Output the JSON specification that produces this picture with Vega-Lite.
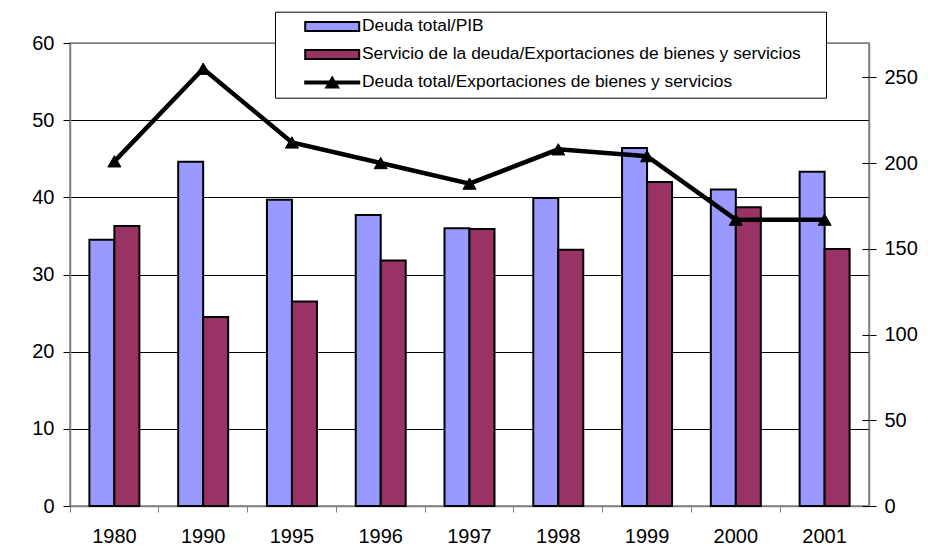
{
  "$schema": "https://vega.github.io/schema/vega-lite/v6.json",
  "width": 799,
  "height": 463,
  "autosize": {"type": "none"},
  "padding": {"left": 70, "top": 43, "right": 59, "bottom": 46},
  "background": "white",
  "config": {
    "font": "Liberation Sans",
    "view": {"stroke": "#808080", "strokeWidth": 1.5},
    "axis": {
      "labelFont": "Liberation Sans",
      "labelFontSize": 20,
      "labelColor": "black",
      "domainColor": "#808080",
      "domainWidth": 1.5,
      "tickColor": "black",
      "tickWidth": 1,
      "title": null,
      "labelAngle": 0
    },
    "legend": {
      "orient": "none",
      "legendX": 205,
      "legendY": -31.3,
      "fillColor": "white",
      "strokeColor": "black",
      "strokeWidth": 1,
      "padding": 6,
      "labelFont": "Liberation Sans",
      "labelFontSize": 17.4,
      "labelColor": "black",
      "labelLimit": 0,
      "symbolSize": 100,
      "symbolStrokeWidth": 2,
      "symbolStrokeColor": "black",
      "symbolOffset": 42.5,
      "labelOffset": 21,
      "rowPadding": 9
    }
  },
  "datasets": {
    "barras": [
      {"anio": "1980", "serie": "Deuda total/PIB", "valor": 34.5},
      {"anio": "1980", "serie": "Servicio de la deuda/Exportaciones de bienes y servicios", "valor": 36.3},
      {"anio": "1990", "serie": "Deuda total/PIB", "valor": 44.6},
      {"anio": "1990", "serie": "Servicio de la deuda/Exportaciones de bienes y servicios", "valor": 24.5},
      {"anio": "1995", "serie": "Deuda total/PIB", "valor": 39.7},
      {"anio": "1995", "serie": "Servicio de la deuda/Exportaciones de bienes y servicios", "valor": 26.5},
      {"anio": "1996", "serie": "Deuda total/PIB", "valor": 37.7},
      {"anio": "1996", "serie": "Servicio de la deuda/Exportaciones de bienes y servicios", "valor": 31.8},
      {"anio": "1997", "serie": "Deuda total/PIB", "valor": 36.0},
      {"anio": "1997", "serie": "Servicio de la deuda/Exportaciones de bienes y servicios", "valor": 35.9},
      {"anio": "1998", "serie": "Deuda total/PIB", "valor": 39.9},
      {"anio": "1998", "serie": "Servicio de la deuda/Exportaciones de bienes y servicios", "valor": 33.2},
      {"anio": "1999", "serie": "Deuda total/PIB", "valor": 46.4},
      {"anio": "1999", "serie": "Servicio de la deuda/Exportaciones de bienes y servicios", "valor": 42.0},
      {"anio": "2000", "serie": "Deuda total/PIB", "valor": 41.0},
      {"anio": "2000", "serie": "Servicio de la deuda/Exportaciones de bienes y servicios", "valor": 38.7},
      {"anio": "2001", "serie": "Deuda total/PIB", "valor": 43.3},
      {"anio": "2001", "serie": "Servicio de la deuda/Exportaciones de bienes y servicios", "valor": 33.3}
    ],
    "linea": [
      {"anio": "1980", "serie": "Deuda total/Exportaciones de bienes y servicios", "ratio": 201},
      {"anio": "1990", "serie": "Deuda total/Exportaciones de bienes y servicios", "ratio": 255},
      {"anio": "1995", "serie": "Deuda total/Exportaciones de bienes y servicios", "ratio": 212},
      {"anio": "1996", "serie": "Deuda total/Exportaciones de bienes y servicios", "ratio": 200},
      {"anio": "1997", "serie": "Deuda total/Exportaciones de bienes y servicios", "ratio": 188},
      {"anio": "1998", "serie": "Deuda total/Exportaciones de bienes y servicios", "ratio": 208},
      {"anio": "1999", "serie": "Deuda total/Exportaciones de bienes y servicios", "ratio": 204},
      {"anio": "2000", "serie": "Deuda total/Exportaciones de bienes y servicios", "ratio": 167},
      {"anio": "2001", "serie": "Deuda total/Exportaciones de bienes y servicios", "ratio": 167}
    ]
  },
  "layer": [
    {
      "data": {"name": "barras"},
      "mark": {"type": "bar", "stroke": "black", "strokeWidth": 2},
      "encoding": {
        "x": {
          "field": "anio", "type": "nominal", "sort": null,
          "scale": {"paddingInner": 0, "paddingOuter": 0},
          "axis": {"orient": "bottom", "ticks": false, "tickSize": 0, "labelPadding": 20, "domain": true, "grid": false, "labelAngle": 0}
        },
        "xOffset": {
          "field": "serie", "type": "nominal",
          "sort": ["Deuda total/PIB", "Servicio de la deuda/Exportaciones de bienes y servicios"],
          "scale": {"paddingInner": 0, "paddingOuter": 0.776}
        },
        "y": {
          "field": "valor", "type": "quantitative",
          "scale": {"domain": [0, 60], "nice": false},
          "axis": {
            "orient": "left",
            "values": [0, 10, 20, 30, 40, 50, 60],
            "grid": true,
            "gridColor": {"condition": {"test": "datum.value === 60 || datum.value === 0", "value": "#808080"}, "value": "black"},
            "gridWidth": 1,
            "tickSize": 7,
            "labelPadding": 9
          }
        },
        "color": {
          "field": "serie", "type": "nominal",
          "scale": {
            "domain": ["Deuda total/PIB", "Servicio de la deuda/Exportaciones de bienes y servicios", "Deuda total/Exportaciones de bienes y servicios"],
            "range": ["#9999FF", "#993366", "black"]
          },
          "legend": {
            "title": "\u00a0",
            "titleOrient": "right",
            "titlePadding": 19,
            "titleFontSize": 17.4,
            "encode": {
              "symbols": {
                "enter": {
                  "shape": {"signal": "datum.value === 'Deuda total/Exportaciones de bienes y servicios' ? 'M-5.4,-0.2H5.4V0.2H-5.4Z M-1.2,1L0,-1L1.2,1Z' : 'M-5.4,-0.9H5.4V0.9H-5.4Z'"},
                  "stroke": {"value": "black"},
                  "strokeWidth": {"value": 2}
                },
                "update": {
                  "shape": {"signal": "datum.value === 'Deuda total/Exportaciones de bienes y servicios' ? 'M-5.4,-0.2H5.4V0.2H-5.4Z M-1.2,1L0,-1L1.2,1Z' : 'M-5.4,-0.9H5.4V0.9H-5.4Z'"},
                  "stroke": {"value": "black"},
                  "strokeWidth": {"value": 2},
                  "opacity": {"value": 1}
                }
              }
            }
          }
        }
      }
    },
    {
      "data": {"name": "linea"},
      "mark": {"type": "line", "strokeWidth": 4.5, "color": "black"},
      "encoding": {
        "x": {
          "field": "anio", "type": "nominal", "sort": null,
          "scale": {"paddingInner": 0, "paddingOuter": 0},
          "axis": {"orient": "bottom", "labels": false, "ticks": true, "tickSize": 6, "tickColor": "#808080", "bandPosition": 0, "domain": false, "grid": false}
        },
        "y": {
          "field": "ratio", "type": "quantitative",
          "scale": {"domain": [0, 270], "nice": false},
          "axis": {"orient": "right", "values": [0, 50, 100, 150, 200, 250], "grid": false, "tickSize": 7, "labelPadding": 8, "domain": true}
        }
      }
    },
    {
      "data": {"name": "linea"},
      "mark": {"type": "point", "shape": "triangle-up", "filled": true, "color": "black", "size": 170, "opacity": 1, "stroke": "black", "strokeWidth": 1},
      "encoding": {
        "x": {
          "field": "anio", "type": "nominal", "sort": null,
          "scale": {"paddingInner": 0, "paddingOuter": 0},
          "axis": null
        },
        "y": {
          "field": "ratio", "type": "quantitative",
          "scale": {"domain": [0, 270], "nice": false},
          "axis": {"orient": "right", "values": [0, 50, 100, 150, 200, 250], "labels": false, "tickSize": -7, "domain": false, "grid": false}
        }
      }
    }
  ],
  "resolve": {
    "scale": {"y": "independent"},
    "axis": {"x": "independent", "y": "independent"}
  }
}
